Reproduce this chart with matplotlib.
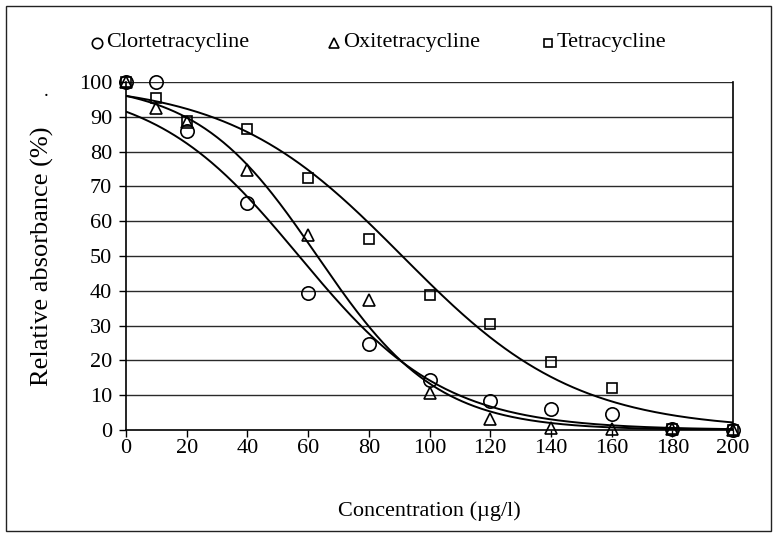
import numpy as np
import matplotlib
matplotlib.use("Agg")
import matplotlib.pyplot as plt
from matplotlib.lines import Line2D
from matplotlib.patches import Rectangle

plt.rcParams['font.family'] = ['Liberation Serif', 'DejaVu Serif']

# Measured relative absorbance (%) versus antibiotic concentration (µg/l)
concentration = [0, 10, 20, 40, 60, 80, 100, 120, 140, 160, 180, 200]
clortetracycline = [100, 100, 86, 65.2, 39.5, 24.6, 14.5, 8.2, 5.9, 4.5, 0.2, 0.0]
oxitetracycline = [100, 92.4, 88.5, 74.8, 56.0, 37.4, 10.6, 3.2, 0.7, 0.2, 0.2, 0.0]
tetracycline = [100, 95.3, 88.7, 86.6, 72.5, 54.9, 38.8, 30.6, 19.4, 12.1, 0.3, 0.0]

# Logistic trend parameters: (upper asymptote, x at 50 %, scale)
fit_clortetracycline = (100.0, 57.0, 24.0)
fit_oxitetracycline = (100.0, 63.0, 19.8)
fit_tetracycline = (100.0, 91.0, 28.6)

series_names = ['Clortetracycline', 'Oxitetracycline', 'Tetracycline']
x_ticks = [0, 20, 40, 60, 80, 100, 120, 140, 160, 180, 200]
y_ticks = [0, 10, 20, 30, 40, 50, 60, 70, 80, 90, 100]


def logistic(x, top, x50, scale):
    return top / (1.0 + np.exp((x - x50) / scale))


W, H = 776, 540
fig = plt.figure(figsize=(W / 100, H / 100), dpi=100)
ax = fig.add_axes([126 / W, 1 - 430 / H, 607 / W, 348 / H])

# outer frame around the whole chart
fig.patches.append(Rectangle((6 / W, 1 - 531 / H), 765 / W, 525 / H,
                             transform=fig.transFigure, fill=False,
                             edgecolor='#222222', linewidth=1.0))

for yv in y_ticks[1:]:
    ax.axhline(yv, color='#2a2a2a', linewidth=1.0, zorder=1)

xs = np.linspace(0, 200, 400)
styles = [('o', 9.6), ('^', 8.8), ('s', 7.4)]
data = [clortetracycline, oxitetracycline, tetracycline]
fits = [fit_clortetracycline, fit_oxitetracycline, fit_tetracycline]

for (marker, size), values, params in zip(styles, data, fits):
    ax.plot(xs, logistic(xs, *params), color='black', linewidth=1.4, zorder=3)
    ax.plot(concentration, values, linestyle='none', marker=marker,
            markersize=size, markerfacecolor='none', markeredgecolor='black',
            markeredgewidth=1.2, zorder=4, clip_on=False)

ax.set_xlim(0, 200)
ax.set_ylim(0, 100)
ax.set_xticks(x_ticks)
ax.set_yticks(y_ticks)
ax.tick_params(axis='both', labelsize=16, length=5, width=1.0, color='black',
               direction='out')
ax.tick_params(axis='x', pad=1.5)
ax.tick_params(axis='y', pad=5)
for side in ['left', 'bottom', 'right']:
    ax.spines[side].set_linewidth(1.2)
    ax.spines[side].set_color('black')
ax.spines['top'].set_visible(False)

ax.set_xlabel('Concentration (µg/l)', fontsize=16, labelpad=31)
ax.set_ylabel('Relative absorbance (%)', fontsize=19, labelpad=18)
fig.text(46 / W, 1 - 96 / H, '.', fontsize=14, ha='center', va='baseline')

# key row above the plot
key_marker_x = [97, 334, 548]
key_y = 1 - 43 / H
for (marker, size), name, mx in zip(styles, series_names, key_marker_x):
    fig.add_artist(Line2D([mx / W], [key_y], linestyle='none', marker=marker,
                          markersize=size * 0.78, markerfacecolor='none',
                          markeredgecolor='black', markeredgewidth=1.2,
                          transform=fig.transFigure))
    fig.text((mx + 9) / W, key_y, name, fontsize=16, ha='left', va='center')

fig.savefig('out.png', dpi=100)
